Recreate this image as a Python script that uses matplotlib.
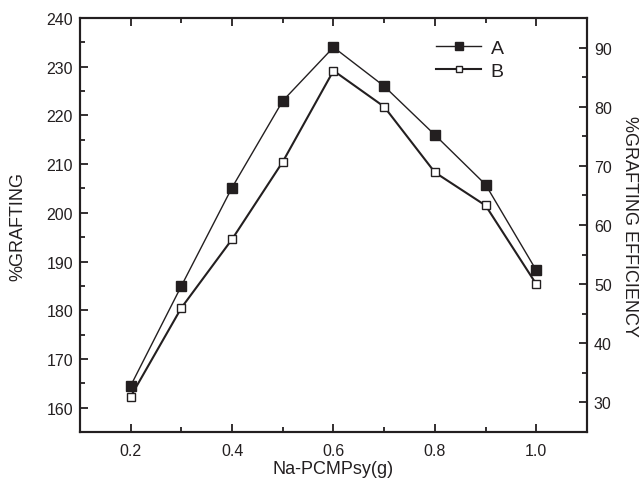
import matplotlib
matplotlib.use("Agg")
import matplotlib.pyplot as plt
from matplotlib.ticker import MultipleLocator

plt.rcParams['font.family'] = ['Liberation Sans', 'DejaVu Sans']

x = [0.2, 0.3, 0.4, 0.5, 0.6, 0.7, 0.8, 0.9, 1.0]
grafting_A = [164.5, 185.0, 205.2, 223.0, 234.0, 226.0, 216.0, 205.8, 188.2]
efficiency_B = [31.0, 46.0, 57.6, 70.7, 86.1, 80.0, 68.9, 63.3, 50.0]
xticks = [0.2, 0.4, 0.6, 0.8, 1.0]

col = '#231f20'
fig = plt.figure(figsize=(6.42, 4.89), dpi=100)
ax = fig.add_axes([0.1246, 0.1145, 0.7897, 0.8466])
ax2 = ax.twinx()

lA, = ax.plot(x, grafting_A, color=col, lw=1.0, marker='s', ms=6.8,
              mfc=col, mec=col, label='A')
lB, = ax2.plot(x, efficiency_B, color=col, lw=1.5, marker='s', ms=5.8,
               mfc='white', mec=col, mew=1.0, label='B')

ax.set_xlim(0.1, 1.1)
ax.set_ylim(155, 240)
ax2.set_ylim(25, 95)
ax.set_xticks(xticks)
ax.set_xticklabels([f'{v:.1f}' for v in xticks])
ax.xaxis.set_minor_locator(MultipleLocator(0.1))
ax.yaxis.set_major_locator(MultipleLocator(10))
ax.yaxis.set_minor_locator(MultipleLocator(5))
ax2.yaxis.set_major_locator(MultipleLocator(10))
ax2.yaxis.set_minor_locator(MultipleLocator(5))

ax.tick_params(axis='x', which='both', direction='in', top=True, bottom=True,
               labelsize=11.5, pad=8, colors=col)
ax.tick_params(axis='y', which='both', direction='in', left=True, right=False,
               labelsize=11.5, pad=5, colors=col)
ax.tick_params(which='major', length=6, width=1.3)
ax.tick_params(which='minor', length=3.5, width=1.3)
ax2.tick_params(axis='y', which='both', direction='in', right=True,
                labelsize=11.5, pad=5, colors=col)
ax2.tick_params(which='major', length=6, width=1.3)
ax2.tick_params(which='minor', length=3.5, width=1.3)

for a in (ax, ax2):
    for s in a.spines.values():
        s.set_linewidth(1.5)
        s.set_color(col)

ax.set_xlabel('Na-PCMPsy(g)', fontsize=13, color=col, labelpad=1)
ax.set_ylabel('%GRAFTING', fontsize=13, color=col, labelpad=14)
ax2.set_ylabel('%GRAFTING EFFICIENCY', fontsize=13, color=col, rotation=-90,
               labelpad=19)

leg = ax.legend(handles=[lA, lB], loc='upper left', bbox_to_anchor=(0.668, 0.99),
                frameon=False, fontsize=14, handlelength=2.3, handletextpad=0.5,
                labelspacing=0.25, markerscale=0.8)
for t in leg.get_texts():
    t.set_color(col)

fig.savefig('out.png', dpi=100)
